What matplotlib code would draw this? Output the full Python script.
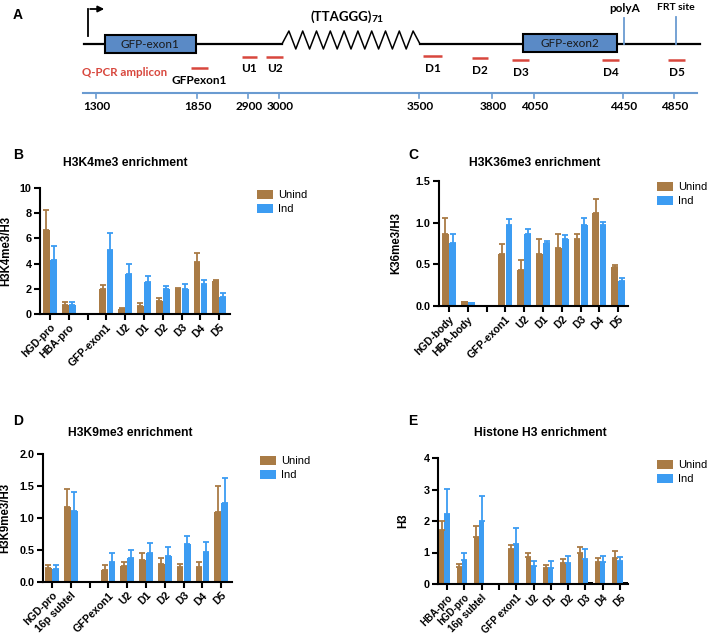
import numpy as np
import matplotlib.pyplot as plt
from matplotlib.patches import Rectangle, Patch

W, H = 709, 634
fig = plt.figure(figsize=(W / 100, H / 100), dpi=100)

BROWN = '#A97B45'
BLUE = '#3C9CF2'
BOXBLUE = '#5A8AC6'
LINEBLUE = '#6A9BD1'
RED = '#D8473D'
nan = np.nan

# ---------------- data -----------------
# panel A (schematic)
amplicons = ['GFPexon1', 'U1', 'U2', 'D1', 'D2', 'D3', 'D4', 'D5']
coord_labels = ['1300', '1850', '2900', '3000', '3500', '3800', '4050', '4450', '4850']

# panel B
cat_b = ['hGD-pro', 'HBA-pro', '', 'GFP-exon1', 'U2', 'D1', 'D2', 'D3', 'D4', 'D5']
unind_b = [6.7, 0.75, nan, 2.0, 0.4, 0.6, 1.05, 2.0, 4.15, 2.65]
unind_b_err = [1.55, 0.2, nan, 0.3, 0.05, 0.25, 0.2, 0.05, 0.7, 0.05]
ind_b = [4.3, 0.75, nan, 5.1, 3.2, 2.55, 1.95, 2.0, 2.35, 1.35]
ind_b_err = [1.1, 0.2, nan, 1.3, 0.75, 0.45, 0.3, 0.4, 0.35, 0.35]

# panel C
cat_c = ['hGD-body', 'HBA-body', '', 'GFP-exon1', 'U2', 'D1', 'D2', 'D3', 'D4', 'D5']
unind_c = [0.86, 0.06, nan, 0.63, 0.43, 0.62, 0.70, 0.80, 1.12, 0.47]
unind_c_err = [0.20, 0, nan, 0.12, 0.12, 0.18, 0.16, 0.06, 0.17, 0.02]
ind_c = [0.76, 0.05, nan, 0.97, 0.87, 0.76, 0.81, 0.97, 0.97, 0.30]
ind_c_err = [0.10, 0, nan, 0.07, 0.05, 0.02, 0.04, 0.09, 0.04, 0.04]

# panel D
cat_d = ['hGD-pro', '16p subtel', '', 'GFPexon1', 'U2', 'D1', 'D2', 'D3', 'D4', 'D5']
unind_d = [0.22, 1.17, nan, 0.18, 0.25, 0.34, 0.28, 0.24, 0.24, 1.10]
unind_d_err = [0.04, 0.28, nan, 0.08, 0.07, 0.11, 0.09, 0.04, 0.07, 0.40]
ind_d = [0.21, 1.11, nan, 0.32, 0.38, 0.45, 0.40, 0.59, 0.47, 1.23]
ind_d_err = [0.05, 0.29, nan, 0.13, 0.12, 0.16, 0.14, 0.13, 0.15, 0.39]

# panel E
cat_e = ['HBA-pro', 'hGD-pro', '16p subtel', '', 'GFP exon1', 'U2', 'D1', 'D2', 'D3', 'D4', 'D5']
unind_e = [1.73, 0.55, 1.50, nan, 1.10, 0.85, 0.50, 0.67, 0.97, 0.70, 0.83]
unind_e_err = [0.27, 0.07, 0.33, nan, 0.13, 0.12, 0.10, 0.11, 0.19, 0.11, 0.23]
ind_e = [2.23, 0.75, 2.00, nan, 1.28, 0.56, 0.52, 0.68, 0.80, 0.69, 0.73]
ind_e_err = [0.80, 0.22, 0.78, nan, 0.50, 0.16, 0.20, 0.22, 0.30, 0.21, 0.13]
extra_e = [nan, nan, nan, nan, nan, nan, nan, nan, 0.06, nan, 0.06]

# ---------------- panel A -----------------
axA = fig.add_axes([0, 1 - 130 / H, 1, 130 / H])
axA.set_xlim(0, W)
axA.set_ylim(130, 0)
axA.axis('off')
ff = 'Lato'

yl = 44
axA.plot([84, 282], [yl, yl], color='k', lw=1.6)
axA.plot([420, 700], [yl, yl], color='k', lw=1.6)
# repeat zig-zag
zx = np.linspace(282, 420, 21)
zy = np.where(np.arange(21) % 2 == 1, 31, 49)
zy[0] = yl
zy[-1] = yl
axA.plot(zx, zy, color='k', lw=1.1)

axA.add_patch(Rectangle((105, 35), 91, 18, facecolor=BOXBLUE, edgecolor='k', lw=1.5, zorder=3))
axA.add_patch(Rectangle((523, 34), 94, 18, facecolor=BOXBLUE, edgecolor='k', lw=1.5, zorder=3))
axA.text(150, 44.5, 'GFP-exon1', ha='center', va='center', fontsize=8.5, family=ff, color='#1a1a1a', zorder=4)
axA.text(570, 43.5, 'GFP-exon2', ha='center', va='center', fontsize=8.5, family=ff, color='#1a1a1a', zorder=4)

# promoter arrow
axA.plot([88, 88], [36, 9], color='k', lw=1.3)
axA.annotate('', xy=(107, 9), xytext=(87.4, 9),
             arrowprops=dict(arrowstyle='-|>', color='k', lw=1.3, mutation_scale=9))

axA.text(372, 17, '(TTAGGG)', ha='right', va='center', fontsize=9.5, family=ff, fontweight='bold')
axA.text(372, 19, '71', ha='left', va='center', fontsize=7.5, family=ff, fontweight='bold')

axA.plot([624, 624], [18, yl], color=LINEBLUE, lw=1.3)
axA.plot([676, 676], [17, yl], color=LINEBLUE, lw=1.3)
axA.text(625, 8, 'polyA', ha='center', va='center', fontsize=8.5, family=ff, fontweight='bold')
axA.text(676, 8, 'FRT site', ha='center', va='center', fontsize=7.5, family=ff, fontweight='bold')

amp_x = [(191, 208), (242, 257), (266, 283), (423, 442), (472, 488), (512, 529), (602, 619), (668, 685)]
amp_y = [68, 57, 57, 56, 58, 60, 60, 60]
lab_y = [81, 69, 69, 68, 70, 72, 73, 73]
for name, (x0, x1), by, ly in zip(amplicons, amp_x, amp_y, lab_y):
    axA.plot([x0, x1], [by, by], color=RED, lw=1.8, solid_capstyle='butt')
    axA.text((x0 + x1) / 2, ly, name, ha='center', va='center', fontsize=8.5, family=ff, fontweight='bold')
axA.text(82, 73, 'Q-PCR amplicon', ha='left', va='center', fontsize=8.3, family=ff, color=RED, fontweight='bold')

axA.plot([83, 697], [93, 93], color=LINEBLUE, lw=1.5)
tick_x = [96, 197, 248, 279, 419, 492, 534, 623, 674]
for lab, tx in zip(coord_labels, tick_x):
    axA.plot([tx, tx], [93, 97.5], color=LINEBLUE, lw=1.2)
    axA.text(tx + 1, 106, lab, ha='center', va='center', fontsize=8.5, family=ff, fontweight='bold')

fig.text(13 / W, 1 - 15 / H, 'A', fontsize=10, fontweight='bold', family='Liberation Sans', va='center', ha='left')

# ---------------- bar panels -----------------
TF = 'Liberation Sans'


def px_rect(l, t, r, b):
    return [l / W, 1 - b / H, (r - l) / W, (b - t) / H]


def bar_panel(rect, cats, unind, unind_err, ind, ind_err, ylim, yticks, yfmt,
              ylabel, ylab_x, xlim, width, xfs=7.6, extra=None):
    ax = fig.add_axes(px_rect(*rect))
    x = np.arange(len(cats))
    if extra is None:
        offs = (-width / 2 - 0.01, width / 2 + 0.01)
    else:
        offs = (-width, 0.0)
    for vals, errs, off, col in ((unind, unind_err, offs[0], BROWN), (ind, ind_err, offs[1], BLUE)):
        vals = np.array(vals, dtype=float)
        errs = np.array(errs, dtype=float)
        ax.bar(x + off, vals, width=width, color=col, zorder=2)
        m = ~np.isnan(vals) & (errs > 0)
        ax.errorbar(x[m] + off, vals[m], yerr=[np.zeros(m.sum()), errs[m]], fmt='none',
                    ecolor=col, elinewidth=1.3, capsize=2, capthick=1.3, zorder=3, clip_on=False)
    if extra is not None:
        ax.bar(x + width, np.array(extra, dtype=float), width=width, color='k', zorder=2)
    ax.set_xlim(*xlim)
    ax.set_ylim(*ylim)
    ax.set_yticks(yticks)
    ax.set_yticklabels([yfmt.format(v) for v in yticks], fontsize=7.8, fontweight='bold', family=TF)
    ax.set_xticks(x)
    ax.set_xticklabels(cats, rotation=45, ha='right', rotation_mode='anchor',
                       fontsize=xfs, fontweight='bold', family=TF)
    for s in ('top', 'right'):
        ax.spines[s].set_visible(False)
    for s in ('left', 'bottom'):
        ax.spines[s].set_linewidth(1.5)
    ax.tick_params(axis='both', direction='out', length=4, width=1.5, pad=2)
    ax.set_ylabel(ylabel, fontsize=8.3, fontweight='bold', family=TF)
    ax.yaxis.set_label_coords(ylab_x, 0.5)
    return ax


def legend_at(ax, x, y):
    handles = [Patch(facecolor=BROWN, label='Unind'), Patch(facecolor=BLUE, label='Ind')]
    ax.legend(handles=handles, loc='upper left', bbox_to_anchor=(x / W, 1 - y / H),
              bbox_transform=fig.transFigure, frameon=False,
              prop={'family': TF, 'size': 8}, handlelength=1.4, handleheight=0.85,
              handletextpad=0.5, labelspacing=0.35, borderpad=0, borderaxespad=0)


axB = bar_panel((40, 188, 230, 314), cat_b, unind_b, unind_b_err, ind_b, ind_b_err,
                (0, 10), [0, 2, 4, 6, 8, 10], '{:g}', 'H3K4me3/H3', -0.145, (-0.53, 9.57), 0.36)
legend_at(axB, 257, 190)
fig.text(125 / W, 1 - 163 / H, 'H3K4me3 enrichment', ha='center', va='center', fontsize=8.7,
         fontweight='bold', family=TF)
fig.text(13 / W, 1 - 155 / H, 'B', fontsize=10, fontweight='bold', family=TF, va='center')

axC = bar_panel((439, 181, 628, 306), cat_c, unind_c, unind_c_err, ind_c, ind_c_err,
                (0, 1.5), [0, 0.5, 1.0, 1.5], '{:.1f}', 'K36me3/H3', -0.195, (-0.53, 9.52), 0.36)
legend_at(axC, 657, 182)
fig.text(535 / W, 1 - 163 / H, 'H3K36me3 enrichment', ha='center', va='center', fontsize=8.7,
         fontweight='bold', family=TF)
fig.text(408 / W, 1 - 155 / H, 'C', fontsize=10, fontweight='bold', family=TF, va='center')

axD = bar_panel((43, 454, 232, 582), cat_d, unind_d, unind_d_err, ind_d, ind_d_err,
                (0, 2.0), [0, 0.5, 1.0, 1.5, 2.0], '{:.1f}', 'H3K9me3/H3', -0.17, (-0.48, 9.57), 0.36)
legend_at(axD, 260, 456)
fig.text(130 / W, 1 - 433 / H, 'H3K9me3 enrichment', ha='center', va='center', fontsize=8.7,
         fontweight='bold', family=TF)
fig.text(13 / W, 1 - 421 / H, 'D', fontsize=10, fontweight='bold', family=TF, va='center')

axE = bar_panel((438, 458, 628, 584), cat_e, unind_e, unind_e_err, ind_e, ind_e_err,
                (0, 4), [0, 1, 2, 3, 4], '{:g}', 'H3', -0.15, (-0.52, 10.46), 0.3, xfs=7, extra=extra_e)
legend_at(axE, 657, 460)
fig.text(540 / W, 1 - 433 / H, 'Histone H3 enrichment', ha='center', va='center', fontsize=8.7,
         fontweight='bold', family=TF)
fig.text(408 / W, 1 - 421 / H, 'E', fontsize=10, fontweight='bold', family=TF, va='center')

fig.savefig('out.png', dpi=100)
